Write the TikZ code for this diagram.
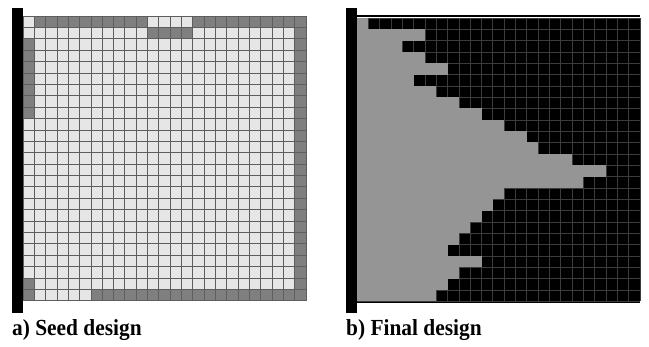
\documentclass[tikz,border=0pt]{standalone}
\usepackage{fontspec}
\setmainfont{Liberation Serif}
\definecolor{lightcell}{HTML}{E6E6E6}
\definecolor{darkcell}{HTML}{7F7F7F}
\definecolor{gridline}{HTML}{5E5E5E}
\definecolor{solidcell}{HTML}{959595}
\definecolor{voidline}{HTML}{3C3C3C}
\tikzset{
  gridstroke/.style={draw=gridline, line width=0.8pt},
  voidstroke/.style={draw=voidline, line width=0.7pt},
  caption/.style={anchor=base west, inner sep=0pt, xscale=0.93,
    font=\bfseries\fontsize{23}{23}\selectfont},
}
\begin{document}
\begin{tikzpicture}[x=1pt,y=-1pt]
\useasboundingbox (0,0) rectangle (649,346);

% ---------------- a) seed design ----------------
\def\ax{23}\def\ay{16}\def\cw{11.32}\def\ah{11.39}
% fill columns c1..c2, rows r1..r2 of the seed grid
\newcommand\seedblock[4]{%
  \fill[darkcell] ({\ax+#1*\cw},{\ay+#3*\ah}) rectangle ({\ax+(#2+1)*\cw},{\ay+(#4+1)*\ah});}
\fill[lightcell] (\ax,\ay) rectangle ({\ax+25*\cw},{\ay+25*\ah});
\seedblock{1}{10}{0}{0}
\seedblock{15}{24}{0}{0}
\seedblock{11}{14}{1}{1}
\seedblock{0}{0}{2}{8}
\seedblock{24}{24}{0}{24}
\seedblock{0}{0}{23}{24}
\seedblock{6}{24}{24}{24}
\foreach \i in {0,...,25}{
  \draw[gridstroke] ({\ax+\i*\cw},\ay) -- ({\ax+\i*\cw},{\ay+25*\ah});
  \draw[gridstroke] (\ax,{\ay+\i*\ah}) -- ({\ax+25*\cw},{\ay+\i*\ah});
}
% fixed support
\fill[black] (12,8) rectangle (23,313);

% ---------------- b) final design ----------------
\def\bx{357}\def\by{18}\def\bh{11.33}
\fill[black] (\bx,\by) rectangle ({\bx+25*\cw},{\by+25*\bh});
\foreach \i in {0,...,25}{
  \draw[voidstroke] ({\bx+\i*\cw},\by) -- ({\bx+\i*\cw},{\by+25*\bh});
  \draw[voidstroke] (\bx,{\by+\i*\bh}) -- ({\bx+25*\cw},{\by+\i*\bh});
}
% solid material: number of filled cells per row, from the support
\foreach \n [count=\r from 0] in {1,6,4,6,8,5,7,9,11,13,15,16,19,22,20,13,12,11,10,9,8,11,9,8,7}{
  \fill[solidcell] (\bx,{\by+\r*\bh-0.2}) rectangle ({\bx+\n*\cw},{\by+(\r+1)*\bh+0.2});
}
\draw[black, line width=2.5pt] (\bx,16) -- ({\bx+25*\cw},16);
\draw[black, line width=1.8pt] (\bx,302.4) -- ({\bx+25*\cw},302.4);
% fixed support
\fill[black] (346,8) rectangle (357,313);

% ---------------- captions ----------------
\node[caption] (capA) at (12,335) {a) Seed design};
\node[caption] (capB) at (346,335) {b) Final design};
\end{tikzpicture}
\end{document}
